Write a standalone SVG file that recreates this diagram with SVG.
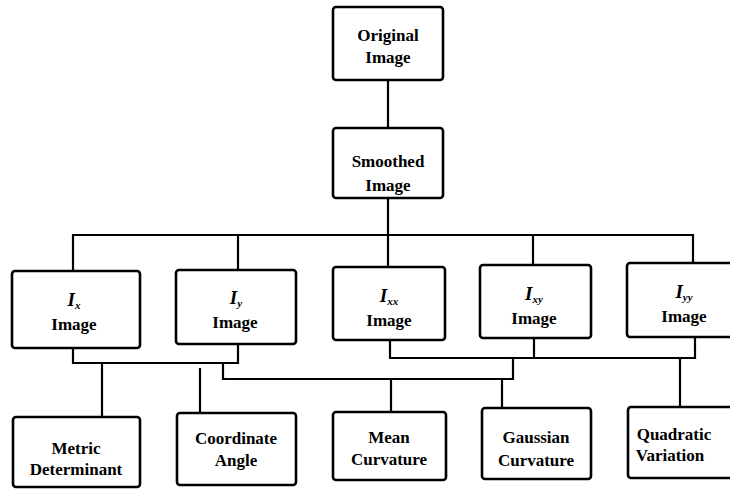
<svg xmlns="http://www.w3.org/2000/svg" width="730" height="489" viewBox="0 0 730 489">
<style>
.box{fill:#fff;stroke:#000;stroke-width:2.6}
.ln{fill:none;stroke:#000;stroke-width:2.2;stroke-linejoin:miter}
text{font-family:"Liberation Serif","Times New Roman",serif;font-weight:bold;font-size:17px;text-anchor:middle;fill:#000}
.i{font-style:italic;font-size:19px}
.s{font-size:11px;font-style:italic}
</style>
<rect width="730" height="489" fill="#fff"/>
<g id="connectors">
<path class="ln" d="M388 80V128"/>
<path class="ln" d="M388 198V235"/>
<path class="ln" d="M73 271V235H693V264"/>
<path class="ln" d="M238 235V270"/>
<path class="ln" d="M388 235V267"/>
<path class="ln" d="M533 235V265"/>
<path class="ln" d="M73 348V363H238V344"/>
<path class="ln" d="M102 363V417"/>
<path class="ln" d="M200 368V413"/>
<path class="ln" d="M223 363V379H513V358"/>
<path class="ln" d="M390 340V358H695V337"/>
<path class="ln" d="M534 338V358"/>
<path class="ln" d="M391 379V412"/>
<path class="ln" d="M502 379V408"/>
<path class="ln" d="M680 358V407"/>
</g>
<g id="original"><rect class="box" x="333" y="7" width="110" height="73" rx="3"/><text x="388" y="41">Original</text><text x="388" y="63">Image</text></g>
<g id="smoothed"><rect class="box" x="333" y="128" width="110" height="70" rx="3"/><text x="388" y="167">Smoothed</text><text x="388" y="191">Image</text></g>
<g id="ix"><rect class="box" x="12" y="271" width="128" height="77" rx="3"/><text x="74" y="306"><tspan class="i">I</tspan><tspan class="s" dy="3">x</tspan></text><text x="74" y="330">Image</text></g>
<g id="iy"><rect class="box" x="176" y="270" width="120" height="74" rx="3"/><text x="236" y="304"><tspan class="i">I</tspan><tspan class="s" dy="3">y</tspan></text><text x="235" y="328">Image</text></g>
<g id="ixx"><rect class="box" x="333" y="267" width="112" height="73" rx="3"/><text x="389" y="302"><tspan class="i">I</tspan><tspan class="s" dy="3">xx</tspan></text><text x="389" y="326">Image</text></g>
<g id="ixy"><rect class="box" x="480" y="265" width="111" height="73" rx="3"/><text x="534" y="300"><tspan class="i">I</tspan><tspan class="s" dy="3">xy</tspan></text><text x="534" y="324">Image</text></g>
<g id="iyy"><rect class="box" x="627" y="263" width="108" height="74" rx="3"/><text x="684" y="298"><tspan class="i">I</tspan><tspan class="s" dy="3">yy</tspan></text><text x="684" y="322">Image</text></g>
<g id="metric"><rect class="box" x="13" y="417" width="127" height="70" rx="3"/><text x="76" y="454">Metric</text><text x="76" y="475">Determinant</text></g>
<g id="coordinate"><rect class="box" x="177" y="413" width="119" height="72" rx="3"/><text x="236" y="444">Coordinate</text><text x="236" y="466">Angle</text></g>
<g id="mean"><rect class="box" x="333" y="412" width="113" height="68" rx="3"/><text x="389" y="443">Mean</text><text x="389" y="465">Curvature</text></g>
<g id="gaussian"><rect class="box" x="482" y="408" width="109" height="71" rx="3"/><text x="536" y="443">Gaussian</text><text x="536" y="466">Curvature</text></g>
<g id="quadratic"><rect class="box" x="628" y="407" width="107" height="71" rx="3"/><text x="674" y="440">Quadratic</text><text x="670" y="461">Variation</text></g>
</svg>
